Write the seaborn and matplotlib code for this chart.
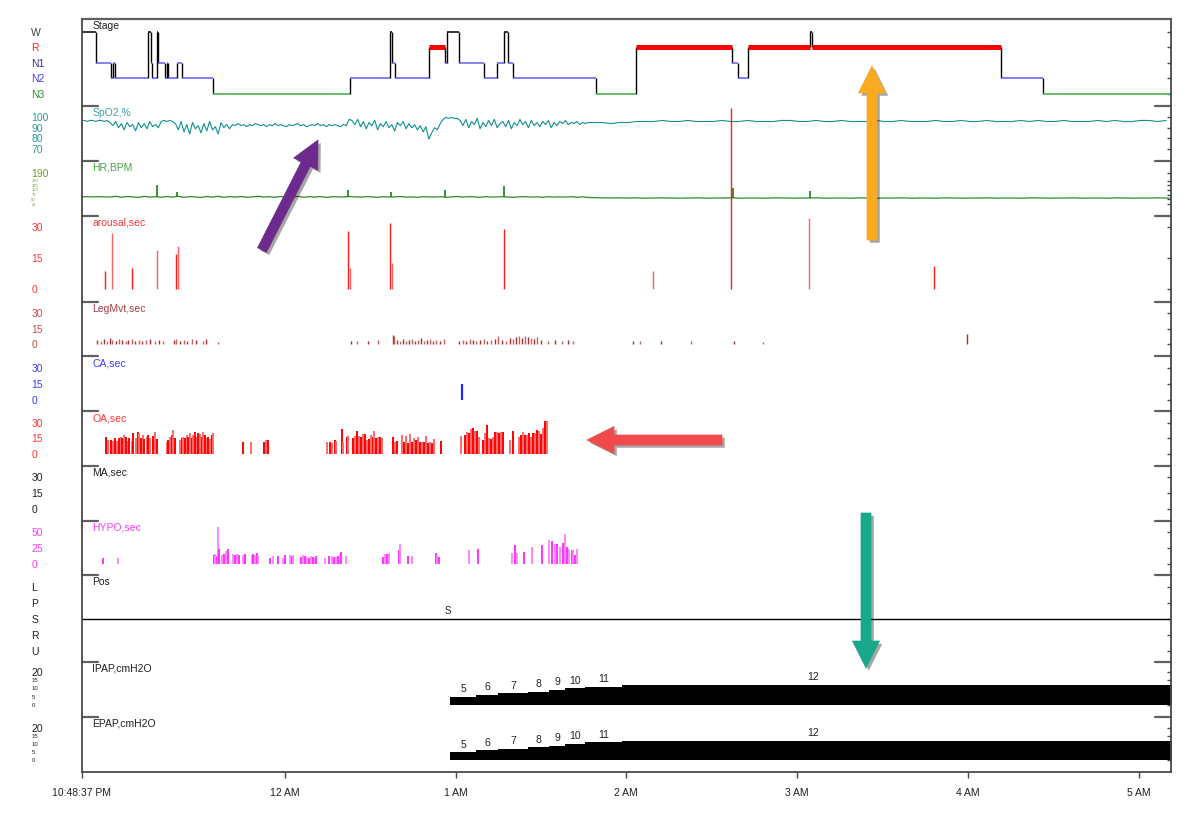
import numpy as np
import matplotlib
matplotlib.use("Agg")
import matplotlib.pyplot as plt
import matplotlib.patheffects as pe
from matplotlib.patches import FancyArrow
import seaborn as sns

sns.set_style("white")
plt.rcParams["font.family"] = ["Liberation Sans", "DejaVu Sans"]

# recording starts 10:48:37 PM; all event times below are minutes after start
start_h = -(1 + 11 / 60 + 23 / 3600)
rec_len_min = 382.7

# ---------------- data ----------------
stage_start = [0, 5.1, 10.4, 11.1, 11.8, 23.5, 24.3, 24.7, 26.4, 27.0, 29.3, 29.9, 30.5,
               33.4, 35.2, 46.3, 94.3, 108.4, 109.1, 110.0, 122.1, 127.7, 128.4, 132.6,
               141.4, 146.0, 148.4, 149.8, 151.6, 180.7, 194.8, 228.5, 230.6, 234.1,
               255.9, 256.6, 323.0, 337.8]
stage_name = ['W', 'N1', 'N2', 'N1', 'N2', 'W', 'N1', 'N2', 'W', 'N1', 'N2', 'N1', 'N2',
              'N1', 'N2', 'N3', 'N2', 'W', 'N1', 'N2', 'R', 'N1', 'W', 'N1',
              'N2', 'N1', 'W', 'N1', 'N2', 'N3', 'R', 'N1', 'N2', 'R',
              'W', 'R', 'N2', 'N3']

# SpO2: one sample per minute for the first 180 min, then one per 3 min
spo2_early = [97, 97, 96, 97, 97, 96, 97, 97, 96, 97,
              95, 92, 96, 90, 94, 88, 95, 91, 93, 87, 95, 90, 94, 89, 96, 91, 93, 90,
              96, 97, 96, 97, 96,
              94, 88, 96, 86, 93, 84, 95, 89, 92, 85, 94, 87, 96, 88, 91, 84, 95, 90, 93, 89,
              93, 92, 94, 92, 93, 91, 93, 92, 94, 93, 92, 93, 91, 93, 92, 94, 92, 93, 92, 91,
              93, 92, 93, 94, 92, 93, 91, 92, 93, 92, 94, 92, 93, 91, 93, 92, 93, 92, 91, 93,
              92, 98,
              97, 93, 98, 91, 96, 89, 95, 92, 97, 88, 94, 91, 96, 90, 93, 87, 95, 92, 96, 89,
              94, 90, 93, 88, 92, 86, 91, 79, 85, 90, 88, 94, 98,
              100, 99, 100, 99, 99,
              97, 92, 98, 90, 96, 93, 99, 89, 95, 91, 97, 92, 98, 90, 94, 96, 91, 97, 89, 95,
              92, 98, 93, 96, 90, 97, 92, 95, 91, 96, 93, 97, 90, 95, 92, 96, 94, 97, 93, 95,
              94, 96, 93, 95, 94,
              95, 95]
spo2_late = [95, 95, 94, 95, 95, 96, 96, 96, 97, 96, 96, 97, 96, 96, 96, 97, 96, 96, 97, 96,
             96, 96, 97, 97, 96, 96, 97, 96, 96, 97, 96, 96, 96, 97, 96, 96, 97, 96, 96, 96,
             97, 96, 96, 97, 96, 96, 97, 96, 96, 96, 97, 96, 97, 96, 96, 97, 96, 96, 96, 97,
             96, 97, 96, 96, 97, 97, 96, 97]

# heart rate: one sample per 2 minutes, plus short spikes
hr_bpm = [63, 64, 63, 64, 63,
          62, 66, 61, 65, 63, 60, 66, 62, 64, 61, 65, 62, 66, 61, 64, 63, 60, 65, 62, 66, 61,
          64, 62, 65, 61, 63, 66, 62, 64, 61, 65, 63, 62, 66, 61, 64, 62, 65, 60, 64, 63, 62, 65,
          63, 62, 64, 63, 61, 64, 62, 63, 65, 62, 63, 61, 64, 63, 62, 64, 61, 63, 65, 62, 64,
          63, 61, 64, 62, 63, 64, 62, 61, 63, 64, 62, 63, 61, 64, 62, 63, 62, 64, 61, 63,
          60, 59, 58, 58, 57, 58, 57, 57, 58, 57, 56, 57, 57, 58, 57, 57, 56, 57, 57, 58, 57,
          56, 57, 57, 57, 58, 57, 56, 57, 57, 57, 56, 57, 58, 57, 57, 56, 57, 57, 57, 58, 57,
          56, 57, 57, 57, 56, 57, 58, 57, 57, 56, 57, 57, 57, 58, 57, 56, 57, 57, 57, 56, 57,
          58, 57, 57, 56, 57, 57, 57, 58, 57, 56, 57, 57, 57, 56, 57, 58, 57, 57, 56, 57, 57,
          57, 58, 57, 56, 57, 57, 57, 56, 57, 58, 57, 57, 56, 57, 57, 57, 58, 57, 56]
hr_spike_min = [26.6, 33.5, 93.7, 108.7, 127.7, 148.4, 228.8, 255.9]
hr_spike_bpm = [126, 89, 100, 89, 100, 121, 110, 94]

arousal_min = [8.3, 10.8, 17.7, 26.6, 33.1, 33.8, 93.6, 94.3, 108.4, 109.1, 148.4, 200.8,
               228.2, 255.6, 299.5]
arousal_sec = [9, 27, 10, 19, 17, 21, 28, 10, 32, 12.5, 29, 9, 87, 34, 11]

leg_min = [5.4, 6.9, 7.9, 9.0, 10.0, 10.7, 12.1, 13.2, 14.2, 15.6, 16.3, 17.7, 18.8, 20.2,
           21.3, 22.7, 24.1, 25.8, 27.2, 28.6, 32.5, 33.2, 34.6, 36.0, 37.1, 38.8, 40.2, 42.7,
           43.7, 47.8,
           94.8, 96.7, 100.5, 104.2, 109.3, 109.8, 110.8, 111.9, 112.9, 114.0, 115.0, 116.1,
           117.1, 118.2, 119.2, 120.3, 121.3, 122.4, 123.4, 124.5, 125.9, 127.3,
           132.6, 134.0, 135.1, 136.5, 137.5, 138.6, 140.0, 141.4, 142.4, 143.8, 145.2, 146.3,
           147.7, 149.1, 150.5, 151.6, 152.6, 153.7, 154.7, 155.8, 156.8, 157.9, 158.9, 160.0,
           161.4, 163.9, 166.3, 168.8, 170.9, 172.7,
           193.7, 196.2, 203.5, 214.1, 229.2, 239.4, 311.1]
leg_sec = [4, 3, 5, 3, 6, 4, 3, 5, 4, 3, 4, 5, 3, 4, 3, 4, 5, 3, 4, 3, 4, 5, 3, 4, 3, 5, 4, 3, 5, 2,
           3, 3, 3, 4, 9, 8, 4, 3, 5, 3, 4, 5, 3, 4, 6, 3, 4, 5, 3, 4, 3, 5,
           3, 4, 3, 5, 4, 3, 4, 5, 3, 4, 5, 8, 4, 3, 6, 5, 7, 8, 6, 8, 7, 6, 5, 7, 4, 3, 4, 3, 4, 3,
           3, 3, 3, 3, 3, 2, 10]

ca_min = [133.7]
ca_sec = [15]

oa_min = [8.6, 9.2, 10.4, 11.2, 11.8, 12.6, 13.2, 13.8, 14.3, 15.0, 15.6, 16.2, 16.8, 17.6,
          18.2, 19.1, 19.7, 20.3, 20.9, 21.5, 22.1, 22.9, 23.5, 24.1, 25.0, 25.8, 26.4,
          29.9, 30.5, 31.1, 31.7, 32.2, 32.8,
          34.6, 35.2, 35.8, 36.4, 37.0, 37.5, 38.1, 38.7, 39.3, 39.9, 40.5, 41.0, 41.6, 42.2,
          42.8, 43.4, 44.0, 44.5, 45.1, 45.7, 46.3,
          56.6, 59.4, 64.1, 64.9, 65.6,
          86.3, 87.3, 88.0, 88.9, 89.3, 91.4, 92.0, 93.4, 93.7, 95.5, 96.2, 96.9, 97.6, 98.3,
          99.0, 99.6, 100.2, 101.1, 101.8, 102.3, 102.8, 103.5, 104.2, 104.9, 105.6,
          109.5, 110.2, 110.9, 112.7, 113.3, 114.0, 114.7, 115.4, 116.1, 116.8, 117.5, 118.2,
          118.9, 119.6, 120.3, 121.0, 121.7, 122.4, 123.1, 123.9,
          126.4,
          133.2, 134.8, 135.5, 136.2, 136.9, 137.6, 138.3, 139.0, 139.7,
          141.2, 141.9, 142.6, 143.3, 144.0, 144.7, 145.4, 146.1, 146.8, 147.5, 148.2,
          150.5, 151.5,
          153.6, 154.3, 155.0, 155.7, 156.4, 157.1, 157.8, 158.7, 159.4, 160.1, 160.8, 161.5,
          162.2, 162.9, 163.6]
oa_sec = [16.7, 13.6, 13.6, 13, 15, 12.5, 15.2, 16.7, 15, 18, 16.7, 13, 15.2, 13, 20, 15.2, 21,
          20, 15.2, 18.3, 14.5, 16, 18.3, 15.2, 17.5, 21.5, 14.5,
          12, 13.6, 16.7, 18.3, 23, 15.2,
          13.6, 15.2, 16.7, 15.2, 18.3, 16.7, 20, 15.6, 18.3, 21, 16.7, 20, 19, 16.7, 21, 18.3,
          15.2, 16.7, 14.5, 18.3, 20,
          12, 12, 12, 13.6, 13.6,
          12, 11.4, 10.4, 13.6, 13, 23.7, 12, 16.8, 17.4, 15.2, 17.4, 22.4, 17.4, 16.1, 19.3,
          19.3, 13.6, 14.2, 18.3, 16.8, 22, 15.8, 16.8, 16.1, 15.2,
          16.8, 12, 13, 18.3, 12, 17.4, 10.4, 19.3, 12, 15.2, 13.6, 16.8, 12, 12, 12, 17.4, 10.4,
          12, 10.4, 14.2,
          12.6,
          17.4, 18.3, 21.5, 20.5, 23.7, 25.3, 22, 22.4, 16.8,
          13.6, 19.9, 27.8, 15.2, 14.2, 16.8, 21, 21, 20.5, 21.5, 21.5,
          13.6, 22.4,
          16.1, 18.3, 21.5, 18.3, 18.3, 20.5, 16.1, 19.9, 20.5, 23.1, 22.4, 19.3, 25.3, 31.6, 31.9]

hypo_min = [7.6, 12.8,
            46.5, 46.9, 47.5, 48.1, 48.4, 49.3, 50.1, 50.8, 51.6, 53.3, 53.9, 54.7, 55.4, 56.8,
            57.4, 59.8, 60.4, 61.0, 61.5, 62.1, 66.2, 67.4, 69.1, 70.7, 71.5, 73.2, 73.8, 74.4,
            77.0, 77.7, 78.4, 79.1, 79.8, 80.5, 81.2, 81.9, 82.4,
            85.5, 87.1, 87.9, 88.7, 89.4, 90.1, 90.8, 91.3, 92.9,
            106.0, 106.7, 107.4, 108.1, 111.4, 111.9, 114.8, 116.2, 124.4, 124.8, 125.5,
            136.0, 139.2, 151.2, 152.4, 153.1, 155.6, 158.4, 161.8,
            164.3, 165.2, 166.2, 166.9, 168.1, 169.3, 169.9, 170.5, 171.4, 172.2, 172.8, 173.4,
            174.0]
hypo_sec = [10, 10,
            14, 16, 12, 58, 23, 14, 16, 20, 23, 16, 14, 15, 14, 14, 15, 14, 16, 14, 17, 12, 10,
            12, 12, 10, 14, 14, 12, 14,
            11, 14, 12, 11, 9, 12, 11, 10, 12,
            10, 12, 13, 11, 11, 12, 15, 19, 12,
            11, 15, 16, 17, 21, 31, 12, 13, 17, 14, 11,
            21, 23, 17, 29, 17, 19, 26, 29,
            37, 35, 31, 31, 27, 32, 46, 27, 23, 21, 22, 14, 23]

pos_value = 'S'
pos_label_min = 128.7

pressure_start_min = [129.5, 138.5, 146.4, 156.8, 164.2, 169.9, 176.9, 189.9]
pressure_cmh2o = [5, 6, 7, 8, 9, 10, 11, 12]
last_label_min = 257.0

hr_ticks = [190, 150, 125, 100, 75, 50, 25]

# ---------------- layout ----------------
W, H = 1200, 823
left_px, right_px = 81.5, 1171
frame = '#4a4a4a'

# key, top px, bottom px, ylim, title, title colour, ticks, tick labels, tick colour
panels = [
    ('stage', 19.3, 106, (-0.77, 4.79), 'Stage', '#202020', [4, 3, 2, 1, 0],
     ['W', 'R', 'N1', 'N2', 'N3'], '#404040'),
    ('spo2', 106, 161, (58.0, 110.9), 'SpO2,%', '#3aa5a5', [100, 90, 80, 70],
     ['100', '90', '80', '70'], '#2e9a9a'),
    ('hr', 161, 215.5, (-36, 253.8), 'HR,BPM', '#48a048', hr_ticks,
     [str(v) for v in hr_ticks], '#6aa030'),
    ('arousal', 215.5, 301.7, (-5.94, 35.4), 'arousal,sec', '#ff3535', [30, 15, 0],
     ['30', '15', '0'], '#ff3535'),
    ('leg', 301.7, 356.3, (-11.6, 41.2), 'LegMvt,sec', '#a84040', [30, 15, 0],
     ['30', '15', '0'], '#d04848'),
    ('ca', 356.3, 411.3, (-10.5, 40.6), 'CA,sec', '#3a3aff', [30, 15, 0],
     ['30', '15', '0'], '#3a3aff'),
    ('oa', 411.3, 466, (-11.1, 40.8), 'OA,sec', '#ff3535', [30, 15, 0],
     ['30', '15', '0'], '#ff3535'),
    ('ma', 466, 520.7, (-10.7, 40.6), 'MA,sec', '#202020', [30, 15, 0],
     ['30', '15', '0'], '#202020'),
    ('hypo', 520.7, 575, (-17, 67), 'HYPO,sec', '#ff3cff', [50, 25, 0],
     ['50', '25', '0'], '#ff3cff'),
    ('pos', 575, 661.7, (-0.69, 4.73), 'Pos', '#202020', [4, 3, 2, 1, 0],
     ['L', 'P', 'S', 'R', 'U'], '#202020'),
    ('ipap', 661.7, 716.7, (-7.0, 25.9), 'IPAP,cmH2O', '#202020', [20, 15, 10, 5, 0],
     ['20', '15', '10', '5', '0'], '#202020'),
    ('epap', 716.7, 772.3, (-7.45, 26.7), 'EPAP,cmH2O', '#202020', [20, 15, 10, 5, 0],
     ['20', '15', '10', '5', '0'], '#202020'),
]


def to_h(m):
    return start_h + np.asarray(m, dtype=float) / 60.0


fig = plt.figure(figsize=(12, 8.23), dpi=100)
axes = {}
first = None
for i, (key, top, bot, ylim, title, tcol, ticks, tlabels, lcol) in enumerate(panels):
    rect = [left_px / W, 1 - bot / H, (right_px - left_px) / W, (bot - top) / H]
    ax = fig.add_axes(rect, sharex=first) if first is not None else fig.add_axes(rect)
    if first is None:
        first = ax
    ax.set_facecolor('none')
    ax.set_ylim(*ylim)
    ax.set_yticks(ticks, tlabels)
    ax.tick_params(axis='y', direction='out', length=3, width=1, color=frame,
                   pad=33.1, labelsize=7.5, labelcolor=lcol)
    for lab in ax.get_yticklabels():
        lab.set_horizontalalignment('left')
    for sp in ['top', 'bottom']:
        ax.spines[sp].set_visible(False)
    for sp in ['left', 'right']:
        ax.spines[sp].set_color(frame)
        ax.spines[sp].set_linewidth(1.3)
    if i == 0:
        ax.spines['top'].set_visible(True)
        ax.spines['top'].set_color('#606060')
        ax.spines['top'].set_linewidth(1.6)
    else:
        mk = 16 / (right_px - left_px)
        ax.plot([0, mk], [1, 1], transform=ax.transAxes, color='#606060', lw=1.6, clip_on=False)
        ax.plot([1 - mk, 1], [1, 1], transform=ax.transAxes, color='#606060', lw=1.6,
                clip_on=False)
    sec = ax.secondary_yaxis('right')
    sec.set_yticks(ticks)
    sec.tick_params(direction='in', length=3, width=1, color=frame, labelright=False)
    sec.spines['right'].set_visible(False)
    ax.annotate(title, xy=(0, 1), xycoords='axes fraction', xytext=(7.9, -1.3),
                textcoords='offset points', ha='left', va='top', fontsize=7.5, color=tcol)
    ax.tick_params(axis='x', bottom=False, labelbottom=False)
    axes[key] = ax

# stage tick colours
stage_colors = {'W': '#404040', 'R': '#ff2020', 'N1': '#303090', 'N2': '#4040e0', 'N3': '#309030'}
for lab, name in zip(axes['stage'].get_yticklabels(), ['W', 'R', 'N1', 'N2', 'N3']):
    lab.set_color(stage_colors[name])

# tiny squeezed labels under 190 / 20
for lab in axes['hr'].get_yticklabels()[1:]:
    lab.set_fontsize(3.0)
for key in ['ipap', 'epap']:
    for lab in axes[key].get_yticklabels()[1:]:
        lab.set_fontsize(4.3)

# ---------------- hypnogram ----------------
ax = axes['stage']
level = {'W': 4, 'R': 3, 'N1': 2, 'N2': 1, 'N3': 0}
seg_col = {'W': 'black', 'R': '#ff0000', 'N1': '#6262f0', 'N2': '#5a5aff', 'N3': '#5cb85c'}
seg_lw = {'W': 1.1, 'R': 3.6, 'N1': 1.1, 'N2': 1.1, 'N3': 1.3}
ends = stage_start[1:] + [rec_len_min]
lv = [level[s] for s in stage_name]
ax.vlines(to_h(stage_start[1:]), np.minimum(lv[:-1], lv[1:]), np.maximum(lv[:-1], lv[1:]),
          color='black', lw=1.0)
ax.hlines(lv, to_h(stage_start), to_h(ends), colors=[seg_col[s] for s in stage_name],
          linewidths=[seg_lw[s] for s in stage_name])

# ---------------- SpO2 / HR ----------------
spo2_t = np.concatenate([np.arange(len(spo2_early)), 180 + 3 * np.arange(len(spo2_late))])
spo2_v = np.array(spo2_early + spo2_late, dtype=float)
sns.lineplot(x=to_h(spo2_t), y=spo2_v, ax=axes['spo2'], color='#129090', linewidth=0.8,
             estimator=None, sort=False, legend=False)

hr_t = 2 * np.arange(len(hr_bpm))
sns.lineplot(x=to_h(hr_t), y=np.array(hr_bpm, dtype=float), ax=axes['hr'], color='#2a8a2a',
             linewidth=0.9, estimator=None, sort=False, legend=False)
base = np.interp(hr_spike_min, hr_t, hr_bpm)
axes['hr'].vlines(to_h(hr_spike_min), base, hr_spike_bpm, color='#1e7a1e', lw=1.2)

# ---------------- event channels ----------------
def events(ax, t, sec, colors, lw=1.0, clip=True):
    cols = [colors[k % len(colors)] for k in range(len(t))]
    lc = ax.vlines(to_h(t), 0, sec, colors=cols, lw=lw)
    lc.set_clip_on(clip)


events(axes['arousal'], arousal_min, arousal_sec, ['#ff1a1a', '#ff6060'], lw=1.0, clip=False)
events(axes['leg'], leg_min, leg_sec, ['#a83030', '#c86060'], lw=1.0)
events(axes['ca'], ca_min, ca_sec, ['#2626ff'], lw=1.6)
events(axes['oa'], oa_min, oa_sec, ['#ff0000', '#ff6a6a'], lw=1.4)
events(axes['hypo'], hypo_min, hypo_sec, ['#ff22ff', '#ff80ff'], lw=1.3)

# ---------------- position ----------------
ax = axes['pos']
pos_level = {'L': 4, 'P': 3, 'S': 2, 'R': 1, 'U': 0}
ax.hlines(pos_level[pos_value], to_h(0), to_h(rec_len_min), color='black', lw=1.0)
ax.text(to_h(pos_label_min), pos_level[pos_value] + 0.5, pos_value, ha='center', va='center',
        fontsize=7, color='#202020')

# ---------------- pressure ----------------
p_x = to_h(pressure_start_min + [rec_len_min + 10])
p_y = pressure_cmh2o + [pressure_cmh2o[-1]]
mids = [(a + b) / 2 for a, b in zip(pressure_start_min[:-1], pressure_start_min[1:])]
mids.append(last_label_min)
for key in ['ipap', 'epap']:
    ax = axes[key]
    ax.fill_between(p_x, 0, p_y, step='post', color='black', lw=0)
    for m, v in zip(mids, pressure_cmh2o):
        ax.annotate(str(v), (to_h(m), v), xytext=(0, 1.8), textcoords='offset points',
                    ha='center', va='bottom', fontsize=7.5, color='#202020')

# ---------------- x axis ----------------
ax = axes['epap']
ax.spines['bottom'].set_visible(True)
ax.spines['bottom'].set_color(frame)
ax.spines['bottom'].set_linewidth(1.3)
ax.set_xlim(to_h(0), to_h(rec_len_min))
ax.set_xticks([float(to_h(0)), 0, 1, 2, 3, 4, 5],
              ['10:48:37 PM', '12 AM', '1 AM', '2 AM', '3 AM', '4 AM', '5 AM'])
ax.tick_params(axis='x', bottom=True, labelbottom=True, direction='out', length=4, width=1,
               color=frame, pad=7, labelsize=7.5, labelcolor='#202020')

# ---------------- annotation arrows ----------------
over = fig.add_axes([0, 0, 1, 1])
over.set_xlim(0, W)
over.set_ylim(H, 0)
over.axis('off')
over.set_facecolor('none')

arrows = [((262, 250), (318, 140), '#6b2a8c'),
          ((872, 240), (872, 66), '#f9aa1e'),
          ((722, 440), (587, 440), '#f04a4a'),
          ((866, 513), (866, 668), '#18a88a')]
for tail, tip, col in arrows:
    arr = FancyArrow(tail[0], tail[1], tip[0] - tail[0], tip[1] - tail[1], width=10,
                     head_width=27, head_length=27, length_includes_head=True,
                     facecolor=col, edgecolor=col, lw=0.5, joinstyle='round')
    arr.set_path_effects([pe.SimplePatchShadow(offset=(2, -2), shadow_rgbFace='black',
                                               alpha=0.35), pe.Normal()])
    over.add_patch(arr)

fig.savefig('out.png', dpi=100)
